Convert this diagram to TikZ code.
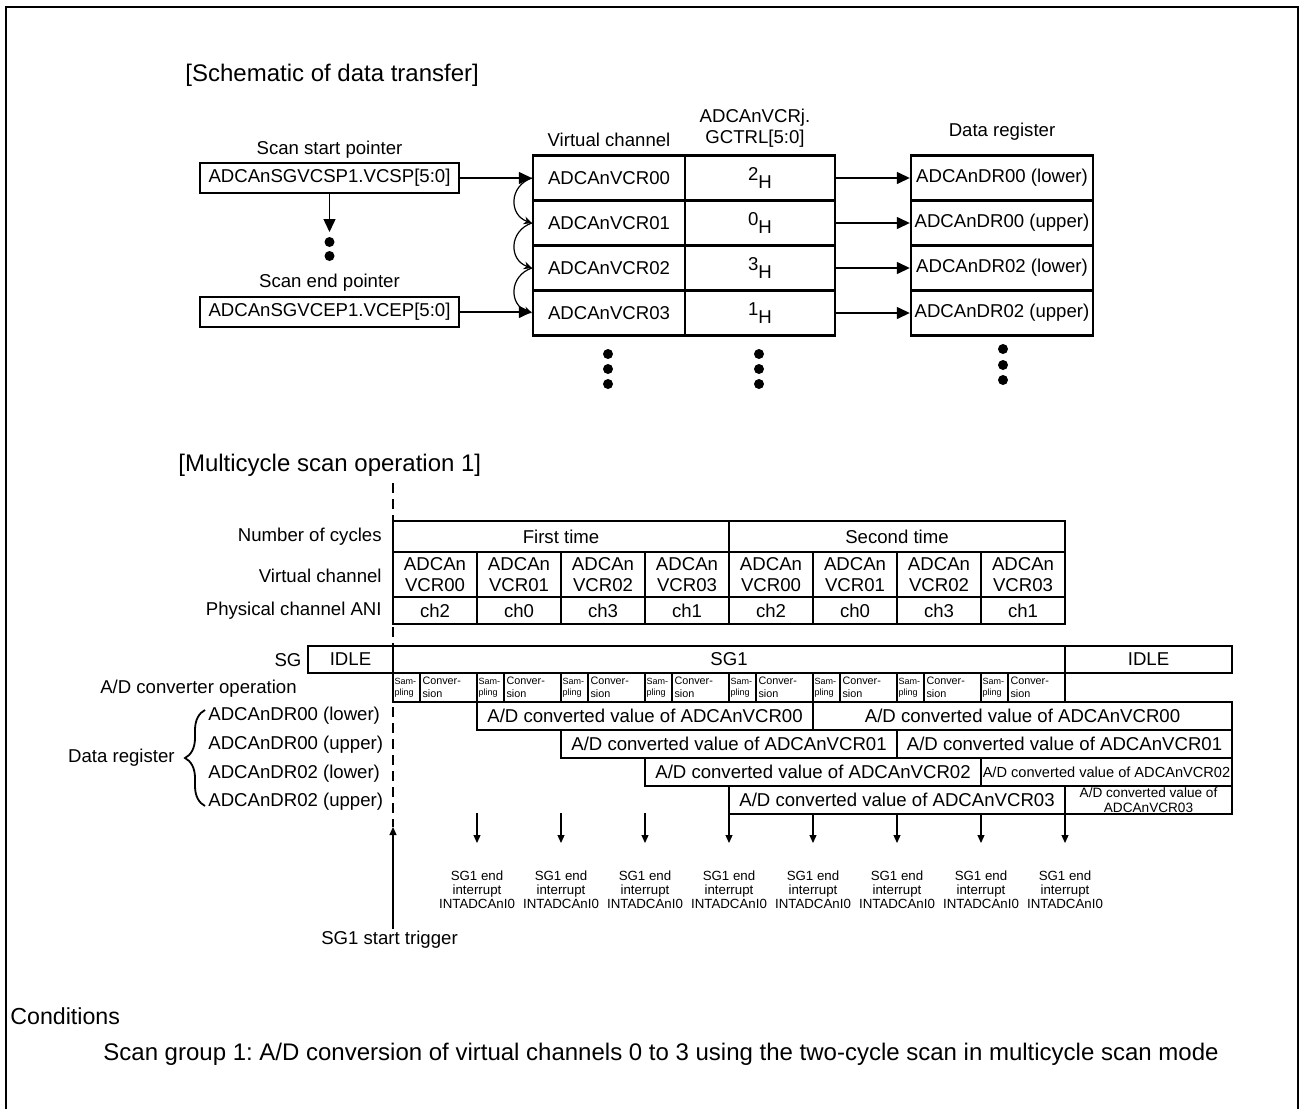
\documentclass[tikz,border=0pt]{standalone}
\usepackage{fontspec}
\setmainfont{Liberation Sans}
\usetikzlibrary{arrows.meta}
\usetikzlibrary{decorations.pathreplacing}
\frenchspacing
\newcommand{\upx}{0.5pt}
\tikzset{
  txt/.style={font=\fontsize{9.3}{10.5}\selectfont, inner sep=1pt},
  title/.style={font=\fontsize{12}{14}\selectfont, inner sep=0pt},
  reg/.style={txt, draw, line width=1.2pt, inner sep=0pt},
  cell/.style={reg},
  samp/.style={draw, line width=1.2pt, inner sep=0.6pt, minimum width=27*\upx, minimum height=29*\upx, text width=12pt, align=left, font=\fontsize{4.5}{5.4}\selectfont},
  conv/.style={draw, line width=1.2pt, inner sep=0.8pt, minimum width=57*\upx, minimum height=29*\upx, text width=26pt, align=left, font=\fontsize{5.4}{6.4}\selectfont},
  small/.style={font=\fontsize{6.65}{7}\selectfont, inner sep=0pt, align=center},
  arr/.style={line width=0.7pt, -{Triangle[length=6.5pt,width=6pt]}},
  carr/.style={line width=0.6pt, -{Stealth[length=4pt,width=4pt]}},
  iarr/.style={line width=0.6pt, -{Triangle[length=4pt,width=3.5pt]}},
  brc/.style={line width=0.9pt, decorate, decoration={brace, amplitude=10pt}}
}
\begin{document}
\begin{tikzpicture}[x=0.5pt,y=-0.5pt]
\useasboundingbox (0,0) rectangle (1301,1109);
\draw[line width=1pt] (6,1109) -- (6,7) -- (1298,7) -- (1298,1109);

% schematic of data transfer
\node[title, anchor=west] (ttlA) at (185,75) {[Schematic of data transfer]};
\node[txt] (lstart) at (329.5,150) {Scan start pointer};
\node[reg, minimum width=259*\upx, minimum height=30*\upx] (vcsp) at (329.5,178) {ADCAnSGVCSP1.VCSP[5:0]};
\node[txt] (lend) at (329.5,283) {Scan end pointer};
\node[reg, minimum width=259*\upx, minimum height=30*\upx] (vcep) at (329.5,312) {ADCAnSGVCEP1.VCEP[5:0]};
\coordinate (ptrdots) at (329.5,232);
\draw[arr] (vcsp.south) -- (ptrdots);
\fill (329.5,242) circle (5) (329.5,256) circle (5);

\node[txt] (lvc) at (609,140) {Virtual channel};
\node[txt, align=center] (lgc) at (755,128) {ADCAnVCRj.\\GCTRL[5:0]};
\node[txt] (ldr) at (1002,132) {Data register};
\foreach \i/\v/\nm in {0/2/{00 (lower)},1/0/{00 (upper)},2/3/{02 (lower)},3/1/{02 (upper)}} {
  \node[reg, minimum width=152*\upx, minimum height=45*\upx] (vcr\i) at (609,178+45*\i) {ADCAnVCR0\i};
  \node[reg, minimum width=150*\upx, minimum height=45*\upx] (gc\i) at (760,178+45*\i) {\v\raisebox{-0.4em}{H}};
  \node[reg, minimum width=182*\upx, minimum height=45*\upx] (dr\i) at (1002,178+45*\i) {ADCAnDR\nm};
  \draw[arr] (gc\i.east) -- (dr\i.west);
}
\foreach \i [evaluate=\i as \j using int(\i+1)] in {0,1,2}
  \draw[carr] (vcr\i.west) .. controls +(-23,8) and +(-23,-8) .. (vcr\j.west);
\draw[arr] (vcsp.east) -- (vcr0.west);
\draw[arr] (vcep.east) -- (vcep.east -| vcr3.west);
\foreach \y in {354,369,384} \fill (608,\y) circle (5) (759,\y) circle (5);
\foreach \y in {349,365,380} \fill (1003,\y) circle (5);

% multicycle scan operation
\node[title, anchor=west] (ttlB) at (178,465) {[Multicycle scan operation 1]};
\coordinate (trigtip) at (393,827);
\draw[line width=1pt, dash pattern=on 5pt off 3pt] (393,483) -- (trigtip);
\node[txt, anchor=east] (lcyc) at (384,537) {Number of cycles};
\node[txt, anchor=east] (lvch) at (384,576) {Virtual channel};
\node[txt, anchor=east] (lach) at (384,611) {Physical channel ANI};
\node[cell, minimum width=336*\upx, minimum height=31*\upx] (cyc1) at (561,536.5) {First time};
\node[cell, minimum width=336*\upx, minimum height=31*\upx] (cyc2) at (897,536.5) {Second time};
\foreach \i/\ch in {0/2,1/0,2/3,3/1,4/2,5/0,6/3,7/1} {
  \pgfmathtruncatemacro\k{mod(\i,4)}
  \node[cell, align=center, minimum width=84*\upx, minimum height=45*\upx] (vch\i) at (435+84*\i,574.5) {ADCAn\\VCR0\k};
  \node[cell, minimum width=84*\upx, minimum height=27*\upx] (ach\i) at (435+84*\i,610.5) {ch\ch};
}

\node[txt] (lsg) at (288,660) {SG};
\node[cell, minimum width=85*\upx, minimum height=27*\upx] (idleA) at (350.5,659.5) {IDLE};
\node[cell, minimum width=672*\upx, minimum height=27*\upx] (sg1) at (729,659.5) {SG1};
\node[cell, minimum width=167*\upx, minimum height=27*\upx] (idleB) at (1148.5,659.5) {IDLE};

\node[txt] (lad) at (198.5,689) {A/D converter operation};
\foreach \i in {0,...,7} {
  \node[samp] (smp\i) at (406.5+84*\i,687.5) {Sam-\\pling};
  \node[conv] (cnv\i) at (448.5+84*\i,687.5) {Conver-\\sion};
}

\node[txt, anchor=east] (ldreg) at (177,758) {Data register};
\draw[brc] (205,806) -- (205,710);
\foreach \r/\nm in {0/{00 (lower)},1/{00 (upper)},2/{02 (lower)},3/{02 (upper)}} {
  \node[txt, anchor=west] (ldr\r) at (206,716+28.7*\r) {ADCAnDR\nm};
  \node[cell, minimum width=336*\upx, minimum height=28*\upx] (cv\r) at (645+84*\r,716+28*\r) {A/D converted value of ADCAnVCR0\r};
}
\node[cell, minimum width=419*\upx, minimum height=28*\upx] (cvb0) at (1022.5,716) {A/D converted value of ADCAnVCR00};
\node[cell, minimum width=335*\upx, minimum height=28*\upx] (cvb1) at (1064.5,744) {A/D converted value of ADCAnVCR01};
\node[cell, minimum width=251*\upx, minimum height=28*\upx, font=\fontsize{7.3}{8}\selectfont] (cvb2) at (1106.5,772) {A/D converted value of ADCAnVCR02};
\node[cell, minimum width=167*\upx, minimum height=28*\upx, align=center, font=\fontsize{6.8}{7.4}\selectfont] (cvb3) at (1148.5,800) {A/D converted value of\\ADCAnVCR03};

\foreach \i in {1,...,8} {
  \coordinate (ia\i) at (393+84*\i,813);
  \coordinate (ib\i) at (393+84*\i,843);
  \draw[iarr] (ia\i) -- (ib\i);
  \node[small] (int\i) at (393+84*\i,890) {SG1 end\\interrupt\\INTADCAnI0};
}
\node[txt] (trig) at (389.5,940) {SG1 start trigger};
\draw[iarr] (trigtip |- trig.north) -- (trigtip);

\node[title, anchor=west, font=\fontsize{11.6}{14}\selectfont] (cond) at (10,1016) {Conditions};
\node[title, anchor=west] (condtxt) at (103,1054) {Scan group 1: A/D conversion of virtual channels 0 to 3 using the two-cycle scan in multicycle scan mode};
\end{tikzpicture}
\end{document}
